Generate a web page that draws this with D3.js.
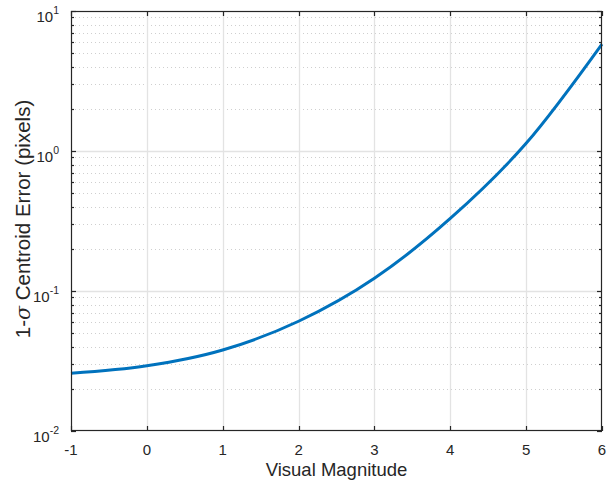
<!DOCTYPE html>
<html><head><meta charset="utf-8">
<script src="https://cdn.jsdelivr.net/npm/d3@7/dist/d3.min.js"></script>
<style>body{margin:0;background:#fff}svg{display:block}text{font-family:"Liberation Sans",Arial,Helvetica,sans-serif;fill:#262626}</style>
</head><body><svg id="c" width="609" height="484"></svg>
<script>
const magnitudes = [-1, 0, 1, 2, 3, 4, 5, 6];
const centroidError = [0.0258, 0.0292, 0.0379, 0.0608, 0.1233, 0.3296, 1.135, 5.81];
const xTicks = [-1, 0, 1, 2, 3, 4, 5, 6];
const yTickExponents = [-2, -1, 0, 1];

const m = {l: 71, r: 602, t: 11, b: 431};
const svg = d3.select("#c");
const x = d3.scaleLinear().domain([-1, 6]).range([m.l, m.r]);
const y = d3.scaleLog().domain([0.01, 10]).range([m.b, m.t]);
const ink = "#262626";

// minor grid (dotted)
const minor = [];
for (let e = -2; e < 1; e++) for (let k = 2; k <= 9; k++) minor.push(k * Math.pow(10, e));
svg.append("g").selectAll("line").data(minor).join("line")
  .attr("x1", m.l).attr("x2", m.r)
  .attr("y1", d => Math.round(y(d)) + 0.5).attr("y2", d => Math.round(y(d)) + 0.5)
  .attr("stroke", "#cfcfcf").attr("stroke-width", 1).attr("stroke-dasharray", "1,3");
// major grid
svg.append("g").selectAll("line").data(xTicks.slice(1, -1)).join("line")
  .attr("x1", d => Math.round(x(d)) + 0.5).attr("x2", d => Math.round(x(d)) + 0.5)
  .attr("y1", m.t).attr("y2", m.b).attr("stroke", "#e3e3e3").attr("stroke-width", 1.3);
svg.append("g").selectAll("line").data(yTickExponents.slice(1, -1)).join("line")
  .attr("y1", d => Math.round(y(Math.pow(10, d))) + 0.5).attr("y2", d => Math.round(y(Math.pow(10, d))) + 0.5)
  .attr("x1", m.l).attr("x2", m.r).attr("stroke", "#e3e3e3").attr("stroke-width", 1.3);

// curve
const line = d3.line().x((d, i) => x(magnitudes[i])).y(d => y(d)).curve(d3.curveMonotoneX);
svg.append("path").datum(centroidError).attr("d", line)
  .attr("fill", "none").attr("stroke", "#0072BD").attr("stroke-width", 3).attr("stroke-linejoin", "round");

// box
svg.append("rect").attr("x", m.l + 0.5).attr("y", m.t + 0.5).attr("width", m.r - m.l - 1).attr("height", m.b - m.t - 1)
  .attr("fill", "none").attr("stroke", ink).attr("stroke-width", 1.2);

// ticks
const tl = 5, tm = 3;
const gt = svg.append("g").attr("stroke", ink).attr("stroke-width", 1.2);
xTicks.forEach(d => {
  const px = Math.round(x(d)) + 0.5;
  gt.append("line").attr("x1", px).attr("x2", px).attr("y1", m.b).attr("y2", m.b - tl);
  gt.append("line").attr("x1", px).attr("x2", px).attr("y1", m.t).attr("y2", m.t + tl);
});
yTickExponents.forEach(e => {
  const py = Math.round(y(Math.pow(10, e))) + 0.5;
  gt.append("line").attr("x1", m.l).attr("x2", m.l + tl).attr("y1", py).attr("y2", py);
  gt.append("line").attr("x1", m.r).attr("x2", m.r - tl).attr("y1", py).attr("y2", py);
});
minor.forEach(d => {
  const py = Math.round(y(d)) + 0.5;
  gt.append("line").attr("x1", m.l).attr("x2", m.l + tm).attr("y1", py).attr("y2", py);
  gt.append("line").attr("x1", m.r).attr("x2", m.r - tm).attr("y1", py).attr("y2", py);
});

// x tick labels
svg.append("g").selectAll("text").data(xTicks).join("text")
  .attr("x", d => x(d)).attr("y", 455).attr("text-anchor", "middle")
  .attr("font-size", 15).text(d => d < 0 ? "-" + Math.abs(d) : d);

// y tick labels
yTickExponents.forEach(e => {
  const py = y(Math.pow(10, e));
  const t = svg.append("text").attr("x", 59).attr("y", py + 11).attr("text-anchor", "end").attr("font-size", 15);
  t.append("tspan").text("10");
  t.append("tspan").attr("dy", -8).attr("font-size", 10.5).text(e);
});

// axis labels
svg.append("text").attr("x", (m.l + m.r) / 2).attr("y", 476).attr("text-anchor", "middle")
  .attr("font-size", 18.5).text("Visual Magnitude");
const yl = svg.append("text").attr("transform", `translate(30,219) rotate(-90)`)
  .attr("text-anchor", "middle").attr("font-size", 20.5);
yl.append("tspan").text("1-");
yl.append("tspan").attr("font-style", "italic").attr("font-family", "'DejaVu Serif',serif").text("σ");
yl.append("tspan").text(" Centroid Error (pixels)");
</script></body></html>
